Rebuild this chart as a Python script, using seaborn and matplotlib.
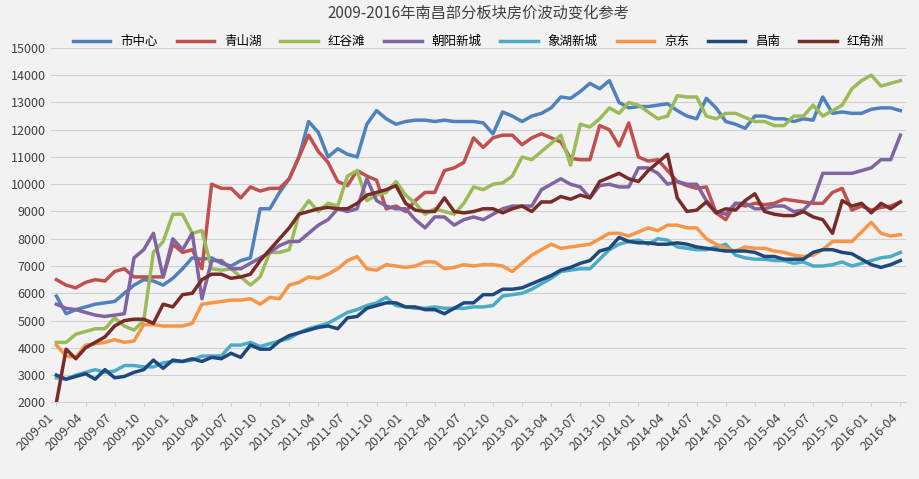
import pandas as pd
import matplotlib.pyplot as plt
import seaborn as sns

plt.rcParams["font.family"] = ["Noto Sans CJK SC", "DejaVu Sans"]

# monthly labels 2009-01 .. 2016-04 (88 months)
months = [f"{y}-{m:02d}" for y in range(2009, 2017) for m in range(1, 13)][:88]

shi_zhongxin = [5900, 5250, 5400, 5500, 5600, 5650, 5700, 6000, 6300, 6500, 6450, 6300,
                6550, 6900, 7300, 7250, 7300, 7100, 7000, 7200, 7300, 9100, 9100, 9700,
                10200, 11000, 12300, 11900, 11000, 11300, 11100, 11000, 12200, 12700, 12400, 12200,
                12300, 12350, 12350, 12300, 12350, 12300, 12300, 12300, 12250, 11850, 12650, 12500,
                12300, 12500, 12600, 12800, 13200, 13150, 13400, 13700, 13500, 13800, 13000, 12800,
                12850, 12850, 12900, 12950, 12700, 12500, 12400, 13150, 12800, 12300, 12200, 12050,
                12500, 12500, 12400, 12400, 12300, 12400, 12350, 13200, 12600, 12650, 12600, 12600,
                12750, 12800, 12800, 12700]
qingshanhu = [6500, 6300, 6200, 6400, 6500, 6450, 6800, 6900, 6600, 6600, 6600, 6600,
              7800, 7500, 7600, 6900, 10000, 9850, 9850, 9500, 9900, 9750, 9850, 9850,
              10200, 11000, 11800, 11200, 10800, 10100, 9950, 10500, 10300, 10150, 9100, 9200,
              9000, 9400, 9700, 9700, 10500, 10600, 10800, 11700, 11350, 11700, 11800, 11800,
              11450, 11700, 11850, 11700, 11550, 10950, 10900, 10900, 12150, 12000, 11400, 12250,
              11000, 10850, 10900, 10500, 10100, 9950, 9850, 9900, 8950, 8700, 9300, 9200,
              9300, 9250, 9300, 9450, 9400, 9350, 9300, 9300, 9700, 9850, 9050, 9200,
              9050, 9150, 9200, 9350]
honggutan = [4200, 4200, 4500, 4600, 4700, 4700, 5100, 4800, 4650, 5000, 7500, 7900,
             8900, 8900, 8200, 8300, 6900, 6850, 6900, 6600, 6300, 6600, 7500, 7500,
             7600, 8900, 9400, 9000, 9300, 9200, 10300, 10500, 9400, 9600, 9700, 10100,
             9600, 9300, 8900, 9100, 9000, 8900, 9300, 9900, 9800, 10000, 10050, 10300,
             11000, 10900, 11200, 11500, 11800, 10700, 12200, 12100, 12400, 12800, 12600, 13000,
             12900, 12650, 12400, 12500, 13250, 13200, 13200, 12500, 12400, 12600, 12600, 12450,
             12300, 12300, 12150, 12150, 12500, 12500, 12900, 12500, 12700, 12900, 13500, 13800,
             14000, 13600, 13700, 13800]
chaoyang = [5600, 5450, 5400, 5300, 5200, 5150, 5200, 5250, 7300, 7600, 8200, 6600,
            8000, 7600, 8200, 5800, 7200, 7200, 6900, 6900, 7100, 7300, 7500, 7750,
            7900, 7900, 8200, 8500, 8700, 9100, 9000, 9100, 10200, 9400, 9200, 9100,
            9100, 8700, 8400, 8800, 8800, 8500, 8700, 8800, 8700, 8900, 9100, 9200,
            9200, 9200, 9800, 10000, 10200, 10000, 9900, 9500, 9950, 10000, 9900, 9900,
            10600, 10600, 10400, 10000, 10100, 10000, 10000, 9400, 9000, 8900, 9300, 9300,
            9100, 9100, 9200, 9200, 9000, 9050, 9400, 10400, 10400, 10400, 10400, 10500,
            10600, 10900, 10900, 11800]
xianghu = [2900, 2850, 3000, 3100, 3200, 3100, 3150, 3350, 3350, 3300, 3300, 3450,
           3500, 3500, 3550, 3700, 3700, 3700, 4100, 4100, 4200, 4050, 4150, 4250,
           4350, 4550, 4700, 4800, 4900, 5100, 5300, 5400, 5550, 5650, 5850, 5550,
           5500, 5450, 5450, 5500, 5450, 5450, 5450, 5500, 5500, 5550, 5900, 5950,
           6000, 6150, 6350, 6550, 6800, 6850, 6900, 6900, 7250, 7600, 7800, 7900,
           7950, 7800, 8000, 7950, 7700, 7650, 7600, 7600, 7700, 7800, 7400, 7300,
           7250, 7250, 7200, 7200, 7100, 7150, 7000, 7000, 7050, 7150, 7000, 7100,
           7200, 7300, 7350, 7500]
jingdong = [4100, 3700, 3650, 4100, 4150, 4200, 4300, 4200, 4250, 4850, 4850, 4800,
            4800, 4800, 4900, 5600, 5650, 5700, 5750, 5750, 5800, 5600, 5850, 5800,
            6300, 6400, 6600, 6550, 6700, 6900, 7200, 7350, 6900, 6850, 7050, 7000,
            6950, 7000, 7150, 7150, 6900, 6950, 7050, 7000, 7050, 7050, 7000, 6800,
            7100, 7400, 7600, 7800, 7650, 7700, 7750, 7800, 8000, 8200, 8200, 8100,
            8250, 8400, 8300, 8500, 8500, 8400, 8400, 8000, 7800, 7650, 7550, 7700,
            7650, 7650, 7550, 7500, 7400, 7350, 7400, 7600, 7900, 7900, 7900, 8250,
            8600, 8200, 8100, 8150]
changnan = [3000, 2850, 2950, 3050, 2850, 3200, 2900, 2950, 3100, 3200, 3550, 3250,
            3550, 3500, 3600, 3500, 3650, 3600, 3800, 3650, 4100, 3950, 3950, 4250,
            4450, 4550, 4650, 4750, 4800, 4700, 5100, 5150, 5450, 5550, 5650, 5650,
            5500, 5500, 5400, 5400, 5250, 5450, 5650, 5650, 5950, 5950, 6150, 6150,
            6200, 6350, 6500, 6650, 6850, 6950, 7100, 7200, 7550, 7650, 8050, 7900,
            7850, 7850, 7800, 7800, 7850, 7800, 7700, 7650, 7600, 7550, 7550, 7550,
            7500, 7350, 7350, 7250, 7250, 7250, 7500, 7600, 7600, 7500, 7450, 7250,
            7050, 6950, 7050, 7200]
hongjiaozhou = [2000, 3950, 3600, 4000, 4200, 4400, 4800, 5000, 5050, 5050, 4900, 5600,
                5500, 5950, 6000, 6500, 6700, 6700, 6550, 6600, 6700, 7200, 7600, 8000,
                8400, 8900, 9000, 9100, 9150, 9100, 9100, 9300, 9600, 9700, 9800, 9950,
                9300, 9050, 9000, 9000, 9500, 9000, 8950, 9000, 9100, 9100, 8950, 9100,
                9200, 9000, 9350, 9350, 9550, 9450, 9600, 9500, 10100, 10250, 10400, 10200,
                10100, 10500, 10800, 11100, 9500, 9000, 9050, 9350, 8950, 9100, 9050, 9400,
                9650, 9000, 8900, 8850, 8850, 9000, 8800, 8700, 8200, 9400, 9200, 9300,
                8950, 9300, 9100, 9350]

series = {
    "市中心": shi_zhongxin, "青山湖": qingshanhu, "红谷滩": honggutan, "朝阳新城": chaoyang,
    "象湖新城": xianghu, "京东": jingdong, "昌南": changnan, "红角洲": hongjiaozhou,
}
colors = ["#4f81bd", "#c0504d", "#9bbb59", "#8064a2", "#4bacc6", "#f79646", "#1f497d", "#772c2a"]

df = pd.DataFrame(series)
df["idx"] = range(len(months))
long_df = df.melt(id_vars="idx", var_name="板块", value_name="价格")

fig, ax = plt.subplots(figsize=(9.2, 4.79), dpi=100)
fig.patch.set_facecolor("#f2f2f2")
ax.set_facecolor("#f2f2f2")

sns.lineplot(data=long_df, x="idx", y="价格", hue="板块", palette=colors,
             linewidth=2.5, ax=ax)

ax.set_ylim(2000, 15000)
ax.set_yticks(range(2000, 15001, 1000))
ax.set_xlim(-0.6, len(months) - 0.4)
ax.set_xticks(range(0, len(months), 3))
ax.set_xticklabels(months[::3], rotation=45, ha="right", fontsize=9, color="#404040")
ax.tick_params(axis="y", labelsize=9, colors="#404040", length=0)
ax.tick_params(axis="x", length=3, color="#d0d0d0")
ax.grid(axis="y", color="#d0d0d0", linewidth=0.8)
ax.grid(axis="x", visible=False)
for s in ["top", "right", "left"]:
    ax.spines[s].set_visible(False)
ax.spines["bottom"].set_color("#d0d0d0")
ax.set_xlabel("")
ax.set_ylabel("")

ax.set_title("2009-2016年南昌部分板块房价波动变化参考", fontsize=11, color="#404040", pad=22)
ax.legend(loc="lower center", bbox_to_anchor=(0.5, 0.985), ncol=8, frameon=False,
          fontsize=9, handlelength=3, columnspacing=1.5, borderaxespad=0)

plt.subplots_adjust(left=0.055, right=0.985, top=0.9, bottom=0.16)
plt.savefig("out.png", dpi=100, facecolor=fig.get_facecolor())
